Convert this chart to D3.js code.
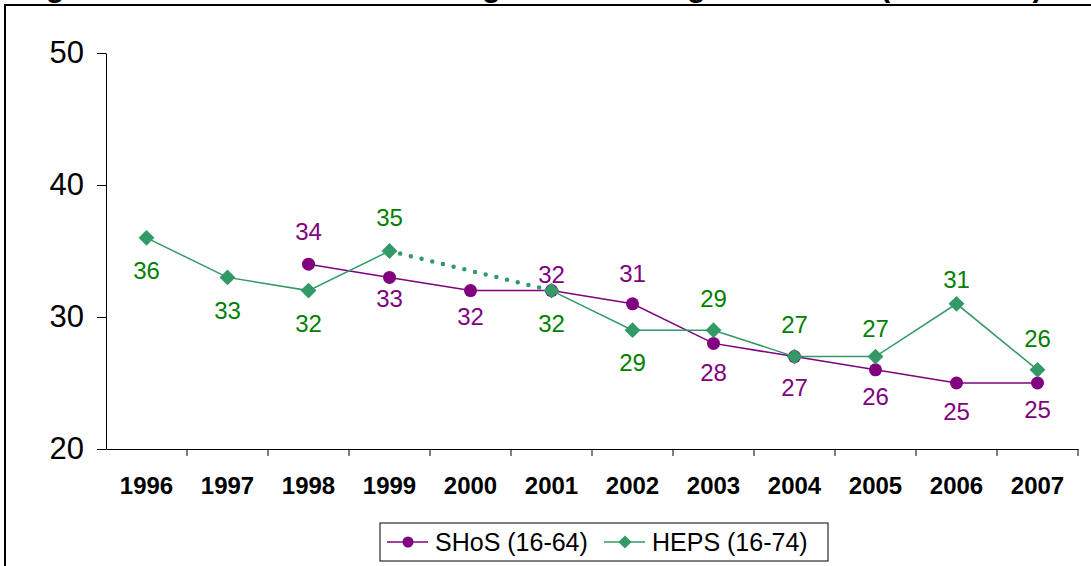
<!DOCTYPE html>
<html>
<head>
<meta charset="utf-8">
<style>
body { margin: 0; background: #fff; }
svg text { font-family: Arial, "Liberation Sans", sans-serif; }
</style>
</head>
<body>
<svg id="chart" width="1091" height="566"></svg>
<script src="https://d3js.org/d3.v7.min.js"></script>
<script>
// chart values
const years = ["1996","1997","1998","1999","2000","2001","2002","2003","2004","2005","2006","2007"];
const shos = [null, null, 34, 33, 32, 32, 31, 28, 27, 26, 25, 25];
const heps = [36, 33, 32, 35, null, 32, 29, 29, 27, 27, 31, 26];
const yTicks = [20, 30, 40, 50];
const seriesNames = ["SHoS (16-64)", "HEPS (16-74)"];

// where each data label sits relative to its point (px, + is below)
const shosLabelDy = [0, 0, -33, 21, 26, -16, -30, 29, 31, 27, 28, 26];
const hepsLabelDy = [33, 33, 33, -34, 0, 33, 32, -32, -32, -28, -24, -31];

const purple = "#800080", green = "#339966", greenText = "#008000";

const svg = d3.select("#chart");

// outer frame (right and bottom edges run off the picture)
svg.append("rect")
  .attr("x", 5).attr("y", 5)
  .attr("width", 1200).attr("height", 700)
  .attr("fill", "none").attr("stroke", "#000").attr("stroke-width", 2);

// title, cut off above the frame: only descenders show
svg.append("text")
  .attr("x", 19.5).attr("y", -3)
  .attr("font-size", 30).attr("font-weight", "bold")
  .attr("textLength", 1023)
  .text("Figure 1: Overall rates of smoking trends among Irish adults (1996-2007)");

const x = d3.scaleBand().domain(years).range([106, 1078]);
const y = d3.scaleLinear().domain([20, 50]).range([449, 53]);
const cx = d => x(d) + x.bandwidth() / 2;

// y axis
svg.append("g")
  .attr("transform", "translate(106,0)")
  .call(d3.axisLeft(y).tickValues(yTicks).tickSize(9).tickPadding(13).tickSizeOuter(0))
  .call(g => g.selectAll("text").attr("font-size", 31).attr("fill", "#000").attr("font-family", null))
  .call(g => g.selectAll("line,path").attr("stroke", "#000"));

// x axis with year labels
svg.append("g")
  .attr("transform", "translate(0,449)")
  .call(d3.axisBottom(x).tickSize(0).tickPadding(28))
  .call(g => g.select(".domain").attr("stroke", "#000"))
  .call(g => g.selectAll("text").attr("font-size", 24).attr("font-weight", "bold").attr("fill", "#000").attr("font-family", null));

// tick marks between the years
svg.append("g").selectAll("line")
  .data(years.slice(1).concat(["end"]))
  .join("line")
  .attr("x1", (d, i) => i < years.length - 1 ? x(d) : x.range()[1])
  .attr("x2", (d, i) => i < years.length - 1 ? x(d) : x.range()[1])
  .attr("y1", 449).attr("y2", 456)
  .attr("stroke", "#000");

function pts(vals) {
  return years.map((yr, i) => ({ yr, v: vals[i], i })).filter(d => d.v != null);
}

const line = d3.line()
  .defined(d => d.v != null)
  .x(d => cx(d.yr))
  .y(d => y(d.v));

const shosAll = years.map((yr, i) => ({ yr, v: shos[i], i }));
const hepsAll = years.map((yr, i) => ({ yr, v: heps[i], i }));

// SHoS
svg.append("path").datum(shosAll)
  .attr("d", line).attr("fill", "none").attr("stroke", purple).attr("stroke-width", 1.5);
svg.append("g").selectAll("circle")
  .data(pts(shos)).join("circle")
  .attr("cx", d => cx(d.yr)).attr("cy", d => y(d.v)).attr("r", 6.5)
  .attr("fill", purple);

// HEPS: solid where consecutive, dotted across the missing year
svg.append("path").datum(hepsAll)
  .attr("d", line).attr("fill", "none").attr("stroke", green).attr("stroke-width", 1.5);
const gap = pts(heps).filter(d => d.yr === "1999" || d.yr === "2001");
svg.append("path").datum(gap)
  .attr("d", line).attr("fill", "none").attr("stroke", green)
  .attr("stroke-width", 4.5).attr("stroke-linecap", "round").attr("stroke-dasharray", "0 11");
const diamond = d3.symbol().type(d3.symbolDiamond2).size(160);
svg.append("g").selectAll("path")
  .data(pts(heps)).join("path")
  .attr("d", diamond)
  .attr("transform", d => `translate(${cx(d.yr)},${y(d.v)})`)
  .attr("fill", green);

// data labels
function labels(vals, dys, color) {
  svg.append("g").selectAll("text")
    .data(pts(vals)).join("text")
    .attr("x", d => cx(d.yr))
    .attr("y", d => y(d.v) + dys[d.i])
    .attr("dy", "0.36em")
    .attr("text-anchor", "middle")
    .attr("font-size", 24)
    .attr("fill", color)
    .text(d => d.v);
}
labels(shos, shosLabelDy, purple);
labels(heps, hepsLabelDy, greenText);

// legend
const leg = svg.append("g");
leg.append("rect")
  .attr("x", 380).attr("y", 523).attr("width", 448).attr("height", 38)
  .attr("fill", "#fff").attr("stroke", "#000").attr("stroke-width", 1);
const legItems = [
  { name: seriesNames[0], color: purple, mark: "circle", x0: 387 },
  { name: seriesNames[1], color: green, mark: "diamond", x0: 604 }
];
legItems.forEach(it => {
  leg.append("line")
    .attr("x1", it.x0).attr("x2", it.x0 + 41).attr("y1", 542).attr("y2", 542)
    .attr("stroke", it.color).attr("stroke-width", 1.5);
  if (it.mark === "circle") {
    leg.append("circle").attr("cx", it.x0 + 21).attr("cy", 542).attr("r", 5.5).attr("fill", it.color);
  } else {
    leg.append("path").attr("d", d3.symbol().type(d3.symbolDiamond2).size(110))
      .attr("transform", `translate(${it.x0 + 21},542)`).attr("fill", it.color);
  }
  leg.append("text")
    .attr("x", it.x0 + 48).attr("y", 542).attr("dy", "0.36em")
    .attr("font-size", 25).attr("fill", "#000")
    .text(it.name);
});
</script>
</body>
</html>
